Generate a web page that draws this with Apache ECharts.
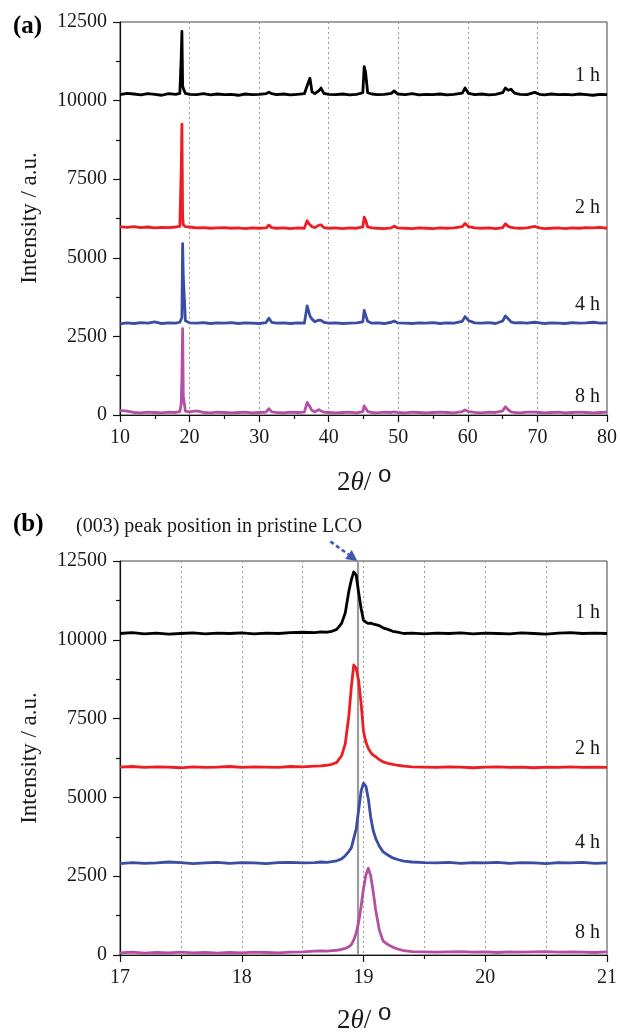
<!DOCTYPE html>
<html>
<head>
<meta charset="utf-8">
<script src="https://cdn.jsdelivr.net/npm/echarts@6/dist/echarts.min.js"></script>
<style>
  html, body { margin: 0; padding: 0; background: #fff; }
  #chart { width: 620px; height: 1032px; }
</style>
</head>
<body>
<div id="chart"></div>
<script>
// XRD patterns after 1, 2, 4 and 8 h; (a) full scan, (b) the (003) reflection.
const seriesNames = ['1 h', '2 h', '4 h', '8 h'];
const seriesColors = ['#000000', '#ee1d23', '#3a4da3', '#b44fa3'];

// (a) full scan, 2θ = 10–80°
const xa = [10, 11, 12, 13, 14, 15, 16, 17, 18, 18.6, 18.8, 18.9, 19.0, 19.1, 19.4, 20, 21, 22, 23, 24,
  25, 26, 27, 28, 29, 30, 31, 31.4, 31.8, 32.5, 33.5, 34.5, 35.5, 36.5, 36.9, 37.1, 37.3, 37.6, 38.0, 38.6,
  38.9, 39.3, 40, 41, 42, 43, 44, 44.9, 45.1, 45.3, 45.6, 46.2, 47, 48, 49.0, 49.4, 49.9, 51, 52, 53,
  54, 55, 56, 57, 58, 59.2, 59.6, 60.1, 61, 62, 63, 64, 65.0, 65.4, 65.8, 66.2, 66.7, 67.5, 68.5, 69.6,
  70.3, 71, 72, 73, 74, 75, 76, 77, 78, 79, 80];

const a1h = [10190, 10230, 10210, 10180, 10220, 10200, 10170, 10220, 10200, 10230, 11400, 12200, 10500, 10380, 10230, 10200, 10190, 10220, 10180, 10210,
  10190, 10200, 10170, 10210, 10190, 10200, 10220, 10270, 10220, 10190, 10210, 10180, 10200, 10220, 10470, 10520, 10710, 10280, 10220, 10320,
  10400, 10230, 10200, 10190, 10210, 10180, 10200, 10250, 11080, 10900, 10250, 10210, 10190, 10200, 10230, 10310, 10210, 10190, 10220, 10180,
  10200, 10190, 10210, 10180, 10200, 10240, 10400, 10230, 10190, 10210, 10180, 10200, 10250, 10400, 10330, 10360, 10240, 10200, 10190, 10260,
  10200, 10180, 10210, 10190, 10200, 10180, 10210, 10190, 10170, 10200, 10190];

const a2h = [5990, 5970, 5990, 5960, 5980, 5950, 5970, 5960, 5980, 6000, 7800, 9250, 6300, 6050, 5990, 5980, 5950, 5960, 5940, 5950,
  5960, 5940, 5950, 5930, 5950, 5940, 5950, 6040, 5960, 5940, 5950, 5930, 5950, 5940, 6180, 6100, 6090, 5990, 5960, 6040,
  6050, 5960, 5940, 5950, 5930, 5950, 5940, 5980, 6290, 6200, 5980, 5950, 5940, 5930, 5950, 6010, 5950, 5940, 5930, 5950,
  5940, 5930, 5950, 5940, 5950, 5990, 6090, 5990, 5950, 5940, 5950, 5930, 5960, 6080, 6000, 5970, 5950, 5940, 5950, 6000,
  5950, 5930, 5940, 5950, 5930, 5950, 5940, 5960, 5950, 5970, 5940];

const a4h = [2900, 2930, 2910, 2940, 2920, 2960, 2910, 2930, 2920, 2950, 3000, 3100, 5450, 4400, 3000, 2930, 2920, 2940, 2910, 2930,
  2920, 2940, 2910, 2930, 2920, 2910, 2940, 3080, 2950, 2920, 2930, 2910, 2930, 2920, 3470, 3480, 3150, 3050, 2970, 3020,
  3010, 2950, 2920, 2930, 2910, 2920, 2930, 2960, 3330, 3350, 2980, 2920, 2930, 2910, 2950, 2990, 2930, 2920, 2910, 2930,
  2920, 2940, 2910, 2930, 2920, 2980, 3130, 3000, 2930, 2920, 2940, 2910, 2990, 3150, 3060, 2960, 2930, 2940, 2920, 2950,
  2930, 2910, 2930, 2920, 2910, 2940, 2920, 2930, 2950, 2920, 2930];

const a8h = [150, 120, 80, 70, 90, 80, 70, 90, 80, 110, 350, 1200, 2750, 600, 120, 100, 130, 80, 70, 90,
  80, 70, 80, 90, 70, 80, 90, 200, 100, 80, 70, 90, 80, 90, 400, 380, 260, 140, 100, 170,
  130, 90, 80, 70, 80, 90, 70, 110, 290, 260, 110, 80, 70, 90, 80, 100, 80, 70, 90, 80,
  70, 80, 90, 80, 70, 110, 160, 110, 80, 70, 90, 80, 130, 260, 170, 100, 80, 70, 90, 90,
  80, 70, 80, 90, 70, 80, 90, 80, 70, 80, 90];

// (b) close-up of the (003) reflection, 2θ = 17–21°
const xb = [17.0, 17.1, 17.2, 17.3, 17.4, 17.5, 17.6, 17.7, 17.8, 17.9, 18.0, 18.1, 18.2, 18.3, 18.4, 18.5, 18.6,
  18.65, 18.70, 18.74, 18.78, 18.82, 18.85, 18.88, 18.90, 18.92, 18.94, 18.96, 18.98, 19.00, 19.02, 19.04, 19.06,
  19.08, 19.10, 19.13, 19.16, 19.20, 19.24, 19.28, 19.33, 19.40, 19.5, 19.6, 19.7, 19.8, 19.9, 20.0, 20.1, 20.2,
  20.3, 20.4, 20.5, 20.6, 20.7, 20.8, 20.9, 21.0];

const b1h = [10200, 10230, 10190, 10210, 10180, 10200, 10220, 10190, 10210, 10200, 10220, 10190, 10210, 10200, 10230, 10240, 10230,
  10250, 10240, 10270, 10330, 10520, 10850, 11550, 11900, 12150, 12050, 11500, 11000, 10620, 10560, 10520, 10530,
  10500, 10480, 10450, 10380, 10330, 10270, 10240, 10200, 10210, 10190, 10210, 10200, 10220, 10190, 10210, 10200, 10190,
  10220, 10200, 10180, 10210, 10230, 10200, 10210, 10200];

const b2h = [5960, 5980, 5950, 5970, 5960, 5940, 5970, 5950, 5960, 5980, 5950, 5970, 5960, 5950, 5980, 5970, 5990,
  6000, 6020, 6050, 6110, 6320, 6700, 7600, 8500, 9200, 9100, 8700, 8000, 7100, 6750, 6550, 6420,
  6340, 6290, 6200, 6130, 6080, 6050, 6020, 5990, 5970, 5960, 5950, 5970, 5960, 5940, 5960, 5970, 5950,
  5960, 5940, 5960, 5950, 5970, 5950, 5960, 5950];

const b4h = [2900, 2930, 2910, 2920, 2950, 2930, 2900, 2920, 2940, 2910, 2930, 2920, 2900, 2930, 2940, 2920, 2930,
  2950, 2940, 2960, 2990, 3050, 3150, 3290, 3400, 3700, 4000, 4600, 5200, 5450, 5350, 4950, 4350,
  3950, 3700, 3450, 3280, 3170, 3080, 3030, 2980, 2950, 2930, 2920, 2940, 2910, 2930, 2920, 2940, 2910,
  2930, 2920, 2900, 2930, 2920, 2940, 2910, 2920];

const b8h = [70, 90, 60, 80, 70, 90, 70, 80, 60, 80, 70, 90, 80, 70, 90, 100, 120,
  130, 120, 140, 150, 180, 210, 260, 330, 480, 700, 1050, 1530, 2100, 2550, 2750, 2500,
  2000, 1430, 790, 450, 330, 250, 190, 140, 110, 100, 90, 100, 110, 90, 100, 80, 100,
  90, 100, 110, 90, 100, 90, 80, 100];

// Intensity ticks shared by both panels, and the pristine (003) position
const yTicks = [0, 2500, 5000, 7500, 10000, 12500];
const pristine003 = 18.95;

const serif = "'Liberation Serif', 'Times New Roman', 'DejaVu Serif', serif";
const sans = "'Liberation Sans', Arial, 'DejaVu Sans', sans-serif";

const zip = (xs, ys) => xs.map((x, i) => [x, ys[i]]);

function xAxisFor(gridIndex, min, max, interval, showMinorGrid) {
  return {
    type: 'value', gridIndex, min, max, interval,
    axisLine: { lineStyle: { color: '#111', width: 1.2 } },
    axisTick: { length: 7, inside: false, lineStyle: { color: '#111', width: 1.2 } },
    minorTick: { show: true, splitNumber: 2, length: 4, lineStyle: { color: '#111', width: 1.2 } },
    axisLabel: { color: '#1a1a1a', fontFamily: serif, fontSize: 20, margin: 13, formatter: v => String(v) },
    splitLine: { show: true, lineStyle: { color: '#9a9a9a', type: [2, 3], width: 1 } },
    minorSplitLine: { show: showMinorGrid, lineStyle: { color: '#9a9a9a', type: [2, 3], width: 1 } }
  };
}

function yAxisFor(gridIndex) {
  return {
    type: 'value', gridIndex, min: yTicks[0], max: yTicks[yTicks.length - 1], interval: 2500,
    axisLine: { show: true, lineStyle: { color: '#111', width: 1.2 } },
    axisTick: { show: true, length: 7, lineStyle: { color: '#111', width: 1.2 } },
    minorTick: { show: true, splitNumber: 2, length: 4, lineStyle: { color: '#111', width: 1.2 } },
    axisLabel: { color: '#1a1a1a', fontFamily: serif, fontSize: 20, margin: 13, formatter: v => String(v) },
    splitLine: { show: false }
  };
}

function lineSeries(name, data, color, axisIndex) {
  return {
    type: 'line', name, data,
    xAxisIndex: axisIndex, yAxisIndex: axisIndex,
    showSymbol: false, symbol: 'none',
    lineStyle: { color, width: 2.8, join: 'round' },
    itemStyle: { color },
    z: 3
  };
}

const panelA = [a1h, a2h, a4h, a8h];
const panelB = [b1h, b2h, b4h, b8h];

const series = [];
panelA.forEach((ys, i) => series.push(lineSeries(seriesNames[i], zip(xa, ys), seriesColors[i], 0)));
panelB.forEach((ys, i) => series.push(lineSeries(seriesNames[i], zip(xb, ys), seriesColors[i], 1)));

// Vertical reference line at the (003) position of pristine LCO
series[4].markLine = {
  silent: true, symbol: ['none', 'none'], label: { show: false },
  lineStyle: { color: '#9b9b9b', type: 'solid', width: 2.2 },
  data: [{ xAxis: pristine003 }],
  z: 2
};

const chart = echarts.init(document.getElementById('chart'), null, { renderer: 'canvas' });

chart.setOption({
  animation: false,
  backgroundColor: '#ffffff',
  grid: [
    { left: 120, top: 22, width: 489, height: 393, show: true, borderColor: '#444', borderWidth: 1, backgroundColor: 'transparent' },
    { left: 120, top: 561, width: 489, height: 394, show: true, borderColor: '#444', borderWidth: 1, backgroundColor: 'transparent' }
  ],
  xAxis: [xAxisFor(0, 10, 80, 10, false), xAxisFor(1, 17, 21, 1, true)],
  yAxis: [yAxisFor(0), yAxisFor(1)],
  series
});

// Annotations: panel letters, axis titles, curve labels and the arrow
const labelYa = [76, 208, 305, 397];
const labelYb = [613, 749, 843, 933];

const graphics = [];
const text = (x, y, s, opts) => graphics.push({
  type: 'text', x, y, silent: true,
  style: Object.assign({ text: s, fill: '#1a1a1a', font: '20px ' + serif, textAlign: 'left', textVerticalAlign: 'middle' }, opts || {})
});

text(13, 27, '(a)', { font: 'bold 25px ' + serif, fill: '#000' });
text(13, 525, '(b)', { font: 'bold 25px ' + serif, fill: '#000' });
text(76, 527, '(003) peak position in pristine LCO', { font: '20px ' + serif });

seriesNames.forEach((n, i) => {
  text(600, labelYa[i], n, { textAlign: 'right' });
  text(600, labelYb[i], n, { textAlign: 'right' });
});

[218, 758].forEach(cy => {
  graphics.push({
    type: 'text', x: 30, y: cy, rotation: Math.PI / 2, silent: true,
    style: { text: 'Intensity / a.u.', fill: '#1a1a1a', font: '23px ' + serif, textAlign: 'center', textVerticalAlign: 'middle' }
  });
});

[483, 1021].forEach(cy => {
  graphics.push({
    type: 'text', x: 337, y: cy, silent: true,
    style: {
      text: '{n|2}{i|θ}{n|/}',
      textVerticalAlign: 'middle',
      rich: {
        n: { fontFamily: serif, fontSize: 27, fill: '#1a1a1a' },
        i: { fontFamily: serif, fontSize: 27, fontStyle: 'italic', fill: '#1a1a1a' }
      }
    }
  });
  text(378, cy - 8, 'o', { font: '24px ' + sans });
});

// Dashed arrow pointing at the pristine (003) position on the top frame
const tip = chart.convertToPixel({ gridIndex: 1 }, [pristine003, yTicks[yTicks.length - 1]]);
const tail = [tip[0] - 27, tip[1] - 19.5];
const len = Math.hypot(tip[0] - tail[0], tip[1] - tail[1]);
const d = [(tip[0] - tail[0]) / len, (tip[1] - tail[1]) / len];
const headL = 11, headW = 5.5;
const base = [tip[0] - headL * d[0], tip[1] - headL * d[1]];
const perp = [-d[1], d[0]];
const arrowColor = '#3d58b4';
graphics.push({
  type: 'line', silent: true,
  shape: { x1: tail[0], y1: tail[1], x2: base[0], y2: base[1] },
  style: { stroke: arrowColor, lineWidth: 2.6, lineDash: [4, 3] }
});
graphics.push({
  type: 'polygon', silent: true,
  shape: { points: [tip, [base[0] + headW * perp[0], base[1] + headW * perp[1]], [base[0] - headW * perp[0], base[1] - headW * perp[1]]] },
  style: { fill: arrowColor }
});

chart.setOption({ graphic: graphics });
</script>
</body>
</html>
